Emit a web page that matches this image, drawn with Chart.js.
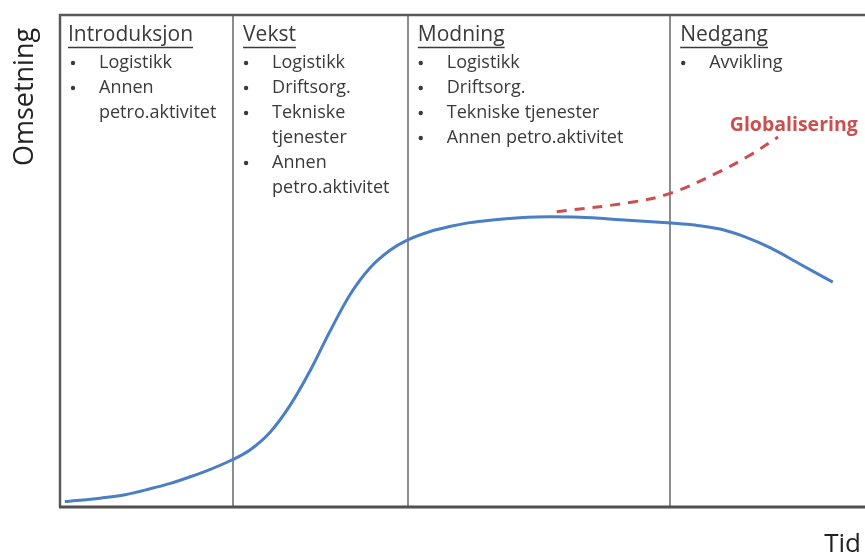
<!DOCTYPE html>
<html>
<head>
<meta charset="utf-8">
<script src="https://cdn.jsdelivr.net/npm/chart.js@4.4.0/dist/chart.umd.min.js"></script>
<style>
  body { margin: 0; background: #fff; overflow: hidden; }
  #wrap { width: 865px; height: 558px; position: relative; }
</style>
</head>
<body>
<div id="wrap"><canvas id="lifecycle"></canvas></div>
<script>
// product life cycle, time on x (0-100), sales on y (0-100)
var salesTime  = [0.6, 5.0, 8.1, 11.2, 13.7, 16.1, 18.6, 21.4, 23.6, 26.1, 28.6, 31.1, 33.5, 36.0, 38.5, 41.0, 43.2, 46.0, 48.4, 50.9, 53.4, 57.1, 60.9, 64.6, 69.6, 75.9, 78.9, 82.0, 85.1, 88.2, 91.9, 96.0];
var salesValue = [1.1, 1.8, 2.5, 3.7, 4.8, 6.1, 7.6, 9.6, 11.6, 15.2, 20.7, 27.8, 35.6, 43.1, 48.6, 52.2, 54.3, 56.0, 57.0, 57.8, 58.3, 58.8, 59.0, 58.9, 58.4, 57.7, 57.3, 56.5, 54.9, 52.7, 49.4, 45.7];

var globalTime  = [61.7, 71.2, 75.9, 81.6, 85.7, 89.2];
var globalValue = [60.0, 62.0, 63.8, 67.9, 71.5, 75.2];

var phaseStart = [0, 21.5, 43.2, 75.8];
var phaseNames = ['Introduksjon', 'Vekst', 'Modning', 'Nedgang'];
var phaseItems = [
  [['Logistikk'], ['Annen', 'petro.aktivitet']],
  [['Logistikk'], ['Driftsorg.'], ['Tekniske', 'tjenester'], ['Annen', 'petro.aktivitet']],
  [['Logistikk'], ['Driftsorg.'], ['Tekniske tjenester'], ['Annen petro.aktivitet']],
  [['Avvikling']]
];

var yTitle = 'Omsetning';
var xTitle = 'Tid';
var globalLabel = 'Globalisering';

function toPoints(xs, ys) {
  return xs.map(function(x, i) { return { x: x, y: ys[i] }; });
}

var framePlugin = {
  id: 'frame',
  beforeDatasetsDraw: function(chart) {
    var ctx = chart.ctx, a = chart.chartArea, xs = chart.scales.x;
    ctx.save();
    // dividers between phases
    ctx.strokeStyle = '#8c8c8c';
    ctx.lineWidth = 2;
    for (var i = 1; i < phaseStart.length; i++) {
      var px = Math.round(xs.getPixelForValue(phaseStart[i]));
      ctx.beginPath();
      ctx.moveTo(px, a.top);
      ctx.lineTo(px, a.bottom);
      ctx.stroke();
    }
    // outer frame: top, left, bottom
    ctx.strokeStyle = '#5a5a5a';
    ctx.lineWidth = 2.5;
    ctx.beginPath();
    ctx.moveTo(a.right + 5, a.top);
    ctx.lineTo(a.left, a.top);
    ctx.lineTo(a.left, a.bottom);
    ctx.stroke();
    ctx.lineWidth = 3;
    ctx.strokeStyle = '#505050';
    ctx.beginPath();
    ctx.moveTo(a.left - 1, a.bottom);
    ctx.lineTo(a.right + 5, a.bottom);
    ctx.stroke();
    ctx.restore();
  },
  afterDraw: function(chart) {
    var ctx = chart.ctx, xs = chart.scales.x, ys = chart.scales.y;
    ctx.save();
    ctx.textBaseline = 'middle';
    ctx.fillStyle = '#3a3a3a';
    ctx.strokeStyle = '#3a3a3a';

    for (var p = 0; p < phaseNames.length; p++) {
      var x0 = xs.getPixelForValue(phaseStart[p]);
      var hx = x0 + (p === 0 ? 8 : 10);
      ctx.font = '21px "Open Sans"';
      ctx.fillText(phaseNames[p], hx, 35);
      var w = ctx.measureText(phaseNames[p]).width;
      ctx.lineWidth = 1.3;
      ctx.beginPath();
      ctx.moveTo(hx, 47.5);
      ctx.lineTo(hx + w, 47.5);
      ctx.stroke();

      ctx.font = '18px "Open Sans"';
      var y = 63;
      phaseItems[p].forEach(function(item) {
        ctx.beginPath();
        ctx.arc(x0 + 13, y, 2.2, 0, Math.PI * 2);
        ctx.fill();
        item.forEach(function(line) {
          ctx.fillText(line, x0 + 39, y);
          y += 25;
        });
      });
    }

    // globalisation label
    ctx.font = 'bold 19.5px "Open Sans"';
    ctx.fillStyle = '#cc4f4f';
    ctx.fillText(globalLabel, xs.getPixelForValue(83.2), ys.getPixelForValue(77.6));

    // axis titles
    ctx.fillStyle = '#222';
    ctx.font = '27px "Open Sans"';
    ctx.save();
    ctx.translate(25, 97);
    ctx.rotate(-Math.PI / 2);
    ctx.textAlign = 'center';
    ctx.fillText(yTitle, 0, 0);
    ctx.restore();
    ctx.font = '26px "Open Sans"';
    ctx.textAlign = 'right';
    ctx.fillText(xTitle, 861, 545);
    ctx.restore();
  }
};

var chart = new Chart(document.getElementById('lifecycle'), {
  type: 'line',
  data: {
    datasets: [
      {
        label: 'Omsetning',
        data: toPoints(salesTime, salesValue),
        borderColor: '#4a7fc4',
        borderWidth: 3,
        pointRadius: 0,
        cubicInterpolationMode: 'monotone',
        fill: false
      },
      {
        label: globalLabel,
        data: toPoints(globalTime, globalValue),
        borderColor: '#cc4f4f',
        borderWidth: 3,
        borderDash: [10, 8],
        pointRadius: 0,
        tension: 0.4,
        fill: false
      }
    ]
  },
  options: {
    responsive: true,
    maintainAspectRatio: false,
    animation: false,
    layout: { padding: { left: 60, right: 0, top: 15, bottom: 51 } },
    plugins: { legend: { display: false }, tooltip: { enabled: false } },
    scales: {
      x: { type: 'linear', min: 0, max: 100, display: false },
      y: { min: 0, max: 100, display: false }
    }
  },
  plugins: [framePlugin]
});
</script>
</body>
</html>
